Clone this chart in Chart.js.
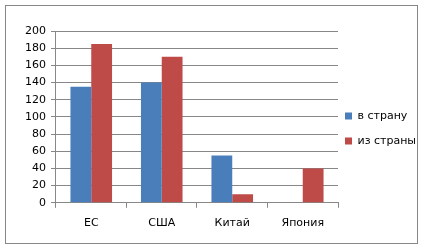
<!DOCTYPE html>
<html>
<head>
<meta charset="utf-8">
<script src="https://cdn.jsdelivr.net/npm/chart.js@4"></script>
<style>
  html, body { margin: 0; padding: 0; background: #fff; }
  #wrap { position: absolute; left: 0; top: 0; width: 425px; height: 248px; }
</style>
</head>
<body>
<div id="wrap"><canvas id="chart1" width="425" height="248"></canvas></div>
<script>
// data
var countries = ['ЕС', 'США', 'Китай', 'Япония'];
var toCountry = [135, 140, 55, 0];
var fromCountry = [185, 170, 10, 40];
var seriesNames = ['в страну', 'из страны'];

Chart.defaults.font.family = "'DejaVu Sans', sans-serif";
Chart.defaults.font.size = 11;
Chart.defaults.color = '#000';

// grey frame round the whole chart
var framePlugin = {
    id: 'frame',
    beforeDraw: function(chart) {
        var c = chart.ctx;
        c.save();
        c.fillStyle = '#fff';
        c.fillRect(0, 0, chart.width, chart.height);
        c.strokeStyle = '#878787';
        c.lineWidth = 1;
        c.strokeRect(5.5, 5.5, 412, 238);
        c.restore();
    }
};

var ctx = document.getElementById('chart1').getContext('2d');
var myChart = new Chart(ctx, {
    type: 'bar',
    data: {
        labels: countries,
        datasets: [{
            label: seriesNames[0],
            data: toCountry,
            backgroundColor: '#4a7ebb',
            categoryPercentage: 0.59,
            barPercentage: 1.0
        }, {
            label: seriesNames[1],
            data: fromCountry,
            backgroundColor: '#be4b48',
            categoryPercentage: 0.59,
            barPercentage: 1.0
        }]
    },
    options: {
        responsive: false,
        animation: false,
        layout: {
            padding: { left: 20, right: 0, top: 31, bottom: 9 }
        },
        scales: {
            x: {
                grid: {
                    drawOnChartArea: false,
                    tickLength: 5,
                    color: '#878787'
                },
                border: { color: '#878787' },
                ticks: { padding: 9 }
            },
            y: {
                min: 0,
                max: 200,
                ticks: { stepSize: 20, padding: 5 },
                grid: {
                    color: '#878787',
                    tickLength: 5
                },
                border: { color: '#878787' }
            }
        },
        plugins: {
            legend: {
                position: 'right',
                fullSize: false,
                maxWidth: 87,
                title: {
                    display: true,
                    text: ' ',
                    padding: 0,
                    font: { lineHeight: '30px' }
                },
                labels: {
                    boxWidth: 7,
                    boxHeight: 7,
                    padding: 7,
                    font: { lineHeight: '18px' },
                    generateLabels: function(chart) {
                        var items = Chart.defaults.plugins.legend.labels.generateLabels(chart);
                        items.forEach(function(it) { it.text = [it.text]; });
                        return items;
                    }
                }
            },
            tooltip: { enabled: false }
        }
    },
    plugins: [framePlugin]
});
</script>
</body>
</html>
